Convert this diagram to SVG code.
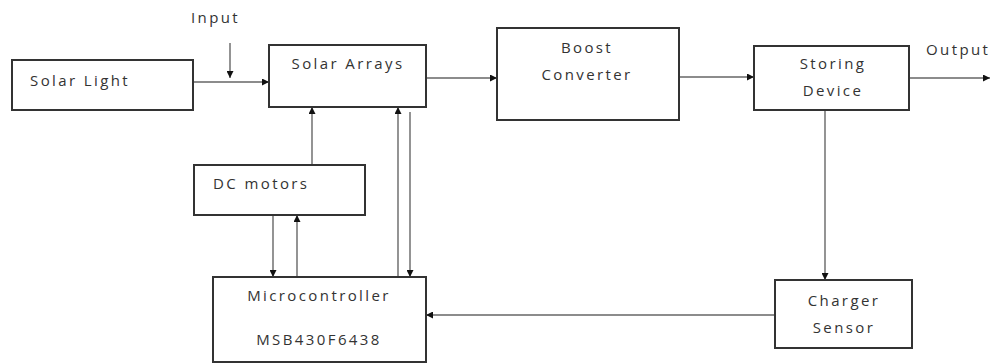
<svg xmlns="http://www.w3.org/2000/svg" width="999" height="364" viewBox="0 0 999 364">
<style>
.box{fill:#fff;stroke:#333;stroke-width:2}
.t{font-family:"Open Sans","Liberation Sans",sans-serif;font-size:15px;fill:#333;letter-spacing:2.4px}
.c{stroke:#666;stroke-width:1.4;fill:none;marker-end:url(#ah)}
</style>
<defs>
<marker id="ah" viewBox="0 0 10 10" refX="10" refY="5" markerWidth="7" markerHeight="7" markerUnits="userSpaceOnUse" orient="auto">
<path d="M0,0 L10,5 L0,10 z" fill="#111"/>
</marker>
</defs>
<rect width="999" height="364" fill="#fff"/>
<g id="connectors">
<line class="c" x1="230" y1="43" x2="230" y2="78"/>
<line class="c" x1="193" y1="82" x2="269" y2="82"/>
<line class="c" x1="426" y1="78" x2="497" y2="78"/>
<line class="c" x1="679" y1="77" x2="754" y2="77"/>
<line class="c" x1="909" y1="78" x2="990" y2="78"/>
<line class="c" x1="825" y1="110" x2="825" y2="280"/>
<line class="c" x1="775" y1="315" x2="426" y2="315"/>
<line class="c" x1="312" y1="165" x2="312" y2="107"/>
<line class="c" x1="273" y1="215" x2="273" y2="277"/>
<line class="c" x1="297" y1="277" x2="297" y2="215"/>
<line class="c" x1="398" y1="277" x2="398" y2="107"/>
<line class="c" x1="410" y1="112" x2="410" y2="277"/>
</g>
<text class="t" x="191" y="23" letter-spacing="1px">Input</text>
<text class="t" x="926" y="55" letter-spacing="1.5px">Output</text>
<g id="solar-light">
<rect class="box" x="12" y="60" width="181" height="50"/>
<text class="t" x="30" y="86">Solar Light</text>
</g>
<g id="solar-arrays">
<rect class="box" x="269" y="45" width="157" height="62"/>
<text class="t" x="348" y="69" text-anchor="middle">Solar Arrays</text>
</g>
<g id="boost-converter">
<rect class="box" x="497" y="28" width="182" height="92"/>
<text class="t" x="587" y="53" text-anchor="middle">Boost</text>
<text class="t" x="587" y="80" text-anchor="middle">Converter</text>
</g>
<g id="storing-device">
<rect class="box" x="754" y="46" width="155" height="64"/>
<text class="t" x="833" y="69" text-anchor="middle">Storing</text>
<text class="t" x="833" y="96" text-anchor="middle">Device</text>
</g>
<g id="dc-motors">
<rect class="box" x="194" y="165" width="171" height="50"/>
<text class="t" x="213" y="189">DC motors</text>
</g>
<g id="microcontroller">
<rect class="box" x="213" y="277" width="213" height="85"/>
<text class="t" x="319" y="301" text-anchor="middle">Microcontroller</text>
<text class="t" x="319" y="345" text-anchor="middle">MSB430F6438</text>
</g>
<g id="charger-sensor">
<rect class="box" x="775" y="280" width="137" height="68"/>
<text class="t" x="844" y="306" text-anchor="middle">Charger</text>
<text class="t" x="844" y="333" text-anchor="middle">Sensor</text>
</g>
</svg>
